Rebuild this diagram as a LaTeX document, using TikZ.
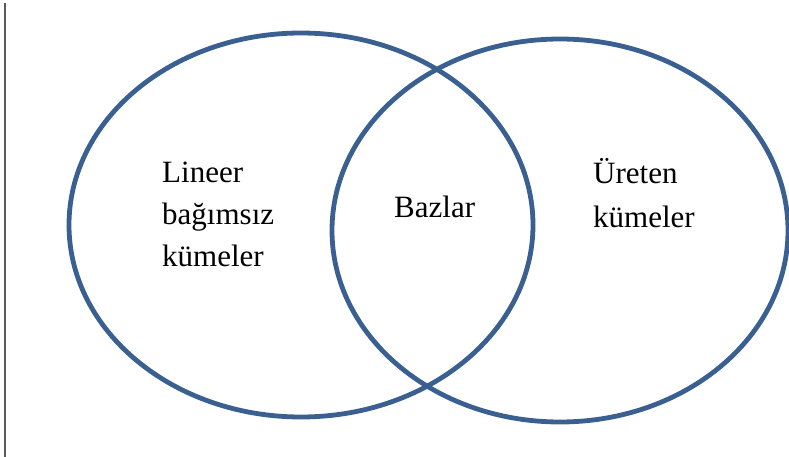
\documentclass[tikz,border=0pt]{standalone}
\usepackage{fontspec}
\setmainfont{Liberation Serif}
\definecolor{vennblue}{RGB}{58,96,146}
\definecolor{edgegray}{RGB}{90,90,90}
\begin{document}
\begin{tikzpicture}[x=1pt,y=-1pt,
  setring/.style={draw=vennblue,line width=4.8pt},
  lbl/.style={anchor=base west,inner sep=0pt,font=\fontsize{31}{42}\selectfont}]
\useasboundingbox (0,0) rectangle (789,457);
\draw[edgegray,line width=1.2pt] (5,3) -- (5,457);
\draw[setring] (301,225) ellipse [x radius=232,y radius=192];
\draw[setring] (560,230.5) ellipse [x radius=228,y radius=191.5];
\node[lbl] (l1) at (162,182.5) {Lineer};
\node[lbl] (l2) at (162,224.5) {bağımsız};
\node[lbl] (l3) at (162,266.5) {kümeler};
\node[lbl] (b1) at (394,217) {Bazlar};
\node[lbl] (r1) at (593,183) {Üreten};
\node[lbl] (r2) at (593,227) {kümeler};
\end{tikzpicture}
\end{document}
